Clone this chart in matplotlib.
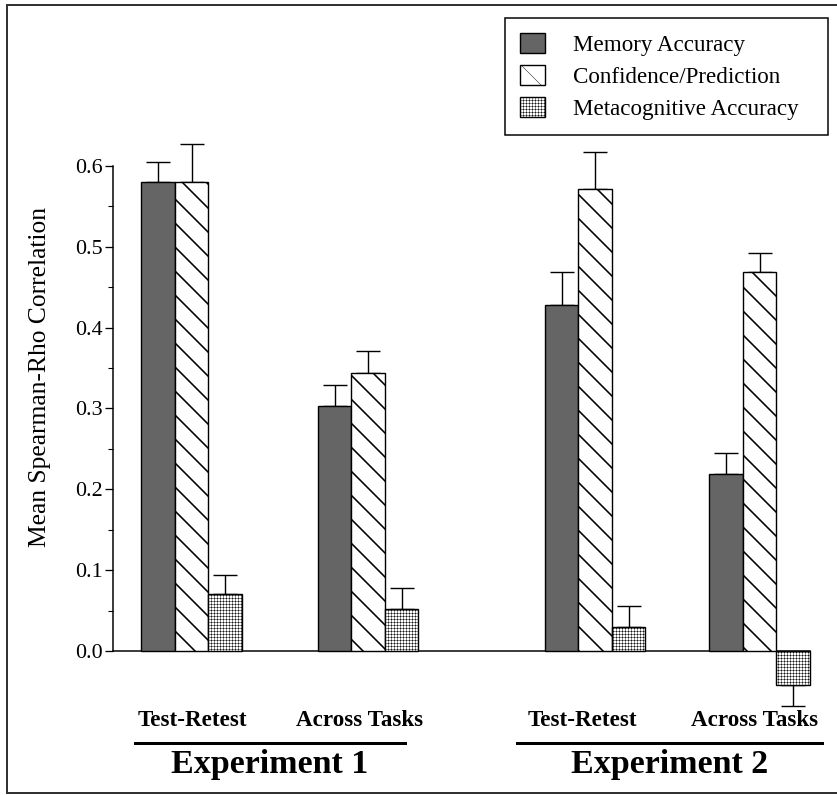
import numpy as np
import matplotlib
matplotlib.use("Agg")
import matplotlib.pyplot as plt
from matplotlib.lines import Line2D

plt.rcParams['font.family'] = ['Liberation Serif', 'DejaVu Serif']

# data
conditions = ['Test-Retest', 'Across Tasks', 'Test-Retest', 'Across Tasks']
experiments = ['Experiment 1', 'Experiment 2']
series = ['Memory Accuracy', 'Confidence/Prediction', 'Metacognitive Accuracy']
memory = [0.580, 0.303, 0.428, 0.219]
memory_err = [0.025, 0.026, 0.041, 0.026]
confidence = [0.580, 0.344, 0.571, 0.469]
confidence_err = [0.047, 0.027, 0.046, 0.023]
meta = [0.071, 0.052, 0.030, -0.042]
meta_err = [0.023, 0.026, 0.026, 0.026]

# layout (pixel-ish units along the x axis)
group_x = np.array([78.5, 255.0, 482.0, 646.5])
bar_w = 33.5

DPI = 72
fig = plt.figure(figsize=(837 / DPI, 795 / DPI), dpi=DPI)
ax = fig.add_axes([113 / 837, 0.0795, 724 / 837, 0.7625])
ax.patch.set_visible(False)

styles = [
    dict(facecolor='#656565', hatch=None, hlw=1.0),
    dict(facecolor='white', hatch='\\', hlw=1.6),
    dict(facecolor='white', hatch='++++', hlw=0.45),
]
values = [memory, confidence, meta]
errors = [memory_err, confidence_err, meta_err]

handles = []
for i, (vals, errs, st) in enumerate(zip(values, errors, styles)):
    plt.rcParams['hatch.linewidth'] = st['hlw']
    xs = group_x + (i - 1) * bar_w
    b = ax.bar(xs, vals, width=bar_w, facecolor=st['facecolor'], edgecolor='black',
               linewidth=1.4, hatch=st['hatch'], zorder=3, label=series[i])
    handles.append(b)
    vals = np.array(vals)
    errs = np.array(errs)
    lower = np.where(vals < 0, errs, 0)
    upper = np.where(vals >= 0, errs, 0)
    ax.errorbar(xs, vals, yerr=[lower, upper], fmt='none', ecolor='black',
                elinewidth=1.4, capsize=12, capthick=1.4, zorder=2)

ax.set_xlim(0, 724)
ax.set_ylim(-0.1, 0.65)
ax.spines['top'].set_visible(False)
ax.spines['right'].set_visible(False)
ax.spines['left'].set_bounds(0, 0.6)
ax.spines['left'].set_linewidth(1.5)
ax.spines['bottom'].set_position(('data', 0))
ax.spines['bottom'].set_bounds(0, 697)
ax.spines['bottom'].set_linewidth(1.5)
ax.set_xticks([])
ax.set_yticks(np.arange(0, 0.61, 0.1))
ax.set_yticks(np.arange(0.05, 0.6, 0.1), minor=True)
ax.set_yticklabels([f'{v:.1f}' for v in np.arange(0, 0.61, 0.1)])
ax.tick_params(axis='y', which='major', direction='out', length=8, width=1.3,
               labelsize=22, pad=2)
ax.tick_params(axis='y', which='minor', direction='out', length=5, width=1.1)
ax.set_ylabel('Mean Spearman-Rho Correlation', fontsize=25.5)
ax.yaxis.set_label_coords(-0.086, 0.585)

leg = fig.legend(handles=handles, labels=series, loc='upper left',
                 bbox_to_anchor=(505 / 837, 1 - 135 / 795, 323 / 837, 117 / 795),
                 mode='expand', fontsize=23,
                 frameon=True, fancybox=False, framealpha=1, edgecolor='black',
                 handlelength=1.1, handleheight=0.95, handletextpad=1.2,
                 labelspacing=0.4, borderpad=0.65, borderaxespad=0)
leg.get_frame().set_linewidth(1.5)

# overlay for group labels and the picture frame (pixel coordinates)
ov = fig.add_axes([0, 0, 1, 1], zorder=5)
ov.set_xlim(0, 837)
ov.set_ylim(795, 0)
ov.axis('off')
label_x = [192, 360, 582, 755]
for cx, name in zip(label_x, conditions):
    ov.text(cx, 720, name, ha='center', va='center', fontsize=23, fontweight='bold')
exp_lines = [(135, 405), (517, 822)]
for (x0, x1), name in zip(exp_lines, experiments):
    ov.plot([x0, x1], [743, 743], color='black', lw=3)
    ov.text((x0 + x1) / 2, 765, name, ha='center', va='center', fontsize=34,
            fontweight='bold')
ov.add_line(Line2D([7, 836], [5, 5], color='#333333', lw=2))
ov.add_line(Line2D([7, 7], [5, 793], color='#333333', lw=2))
ov.add_line(Line2D([7, 836], [793, 793], color='#333333', lw=2))

fig.savefig('out.png', dpi=DPI)
